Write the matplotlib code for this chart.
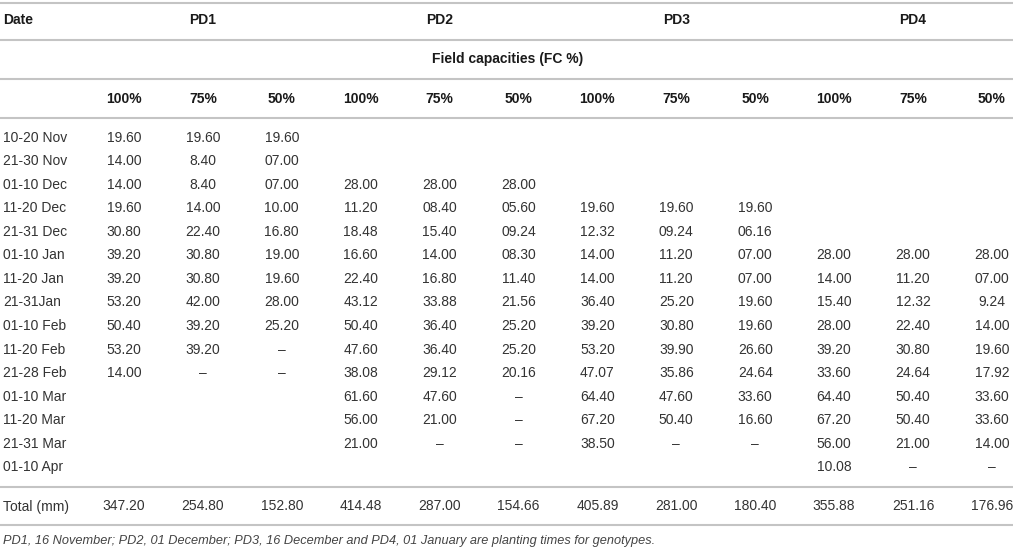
import matplotlib
matplotlib.use("Agg")
import matplotlib.pyplot as plt

plt.rcParams['font.family'] = ['Liberation Sans', 'DejaVu Sans']

dates = ["10-20 Nov", "21-30 Nov", "01-10 Dec", "11-20 Dec", "21-31 Dec",
         "01-10 Jan", "11-20 Jan", "21-31Jan", "01-10 Feb", "11-20 Feb",
         "21-28 Feb", "01-10 Mar", "11-20 Mar", "21-31 Mar", "01-10 Apr"]

planting_dates = ["PD1", "PD2", "PD3", "PD4"]
fc_levels = ["100%", "75%", "50%"]

D = "\u2013"
pd1_100 = ["19.60", "14.00", "14.00", "19.60", "30.80", "39.20", "39.20", "53.20", "50.40", "53.20", "14.00", "", "", "", ""]
pd1_75 = ["19.60", "8.40", "8.40", "14.00", "22.40", "30.80", "30.80", "42.00", "39.20", "39.20", D, "", "", "", ""]
pd1_50 = ["19.60", "07.00", "07.00", "10.00", "16.80", "19.00", "19.60", "28.00", "25.20", D, D, "", "", "", ""]
pd2_100 = ["", "", "28.00", "11.20", "18.48", "16.60", "22.40", "43.12", "50.40", "47.60", "38.08", "61.60", "56.00", "21.00", ""]
pd2_75 = ["", "", "28.00", "08.40", "15.40", "14.00", "16.80", "33.88", "36.40", "36.40", "29.12", "47.60", "21.00", D, ""]
pd2_50 = ["", "", "28.00", "05.60", "09.24", "08.30", "11.40", "21.56", "25.20", "25.20", "20.16", D, D, D, ""]
pd3_100 = ["", "", "", "19.60", "12.32", "14.00", "14.00", "36.40", "39.20", "53.20", "47.07", "64.40", "67.20", "38.50", ""]
pd3_75 = ["", "", "", "19.60", "09.24", "11.20", "11.20", "25.20", "30.80", "39.90", "35.86", "47.60", "50.40", D, ""]
pd3_50 = ["", "", "", "19.60", "06.16", "07.00", "07.00", "19.60", "19.60", "26.60", "24.64", "33.60", "16.60", D, ""]
pd4_100 = ["", "", "", "", "", "28.00", "14.00", "15.40", "28.00", "39.20", "33.60", "64.40", "67.20", "56.00", "10.08"]
pd4_75 = ["", "", "", "", "", "28.00", "11.20", "12.32", "22.40", "30.80", "24.64", "50.40", "50.40", "21.00", D]
pd4_50 = ["", "", "", "", "", "28.00", "07.00", "9.24", "14.00", "19.60", "17.92", "33.60", "33.60", "14.00", D]

totals = ["347.20", "254.80", "152.80", "414.48", "287.00", "154.66",
          "405.89", "281.00", "180.40", "355.88", "251.16", "176.96"]

columns = [pd1_100, pd1_75, pd1_50, pd2_100, pd2_75, pd2_50,
           pd3_100, pd3_75, pd3_50, pd4_100, pd4_75, pd4_50]

footnote = ("PD1, 16 November; PD2, 01 December; PD3, 16 December and PD4, "
            "01 January are planting times for genotypes.")

W, H = 1016, 549
fig = plt.figure(figsize=(W / 100, H / 100), dpi=100)
ax = fig.add_axes([0, 0, 1, 1])
ax.set_xlim(0, W)
ax.set_ylim(H, 0)
ax.axis("off")

txt = "#333333"
hdr = "#1a1a1a"
line_c = "#c4c4c4"
fs = 10

# horizontal rules
for y in [3, 40, 79, 118, 486.5, 524.5]:
    ax.plot([0, 1013], [y, y], color=line_c, lw=1.5, solid_capstyle="butt")

col_x0 = 124
col_dx = 78.9
col_x = [col_x0 + i * col_dx for i in range(12)]

# header
ax.text(3, 20.5, "Date", fontsize=fs, fontweight="bold", color=hdr, ha="left", va="center")
for i, p in enumerate(planting_dates):
    cx = col_x[3 * i + 1]
    ax.text(cx, 20.5, p, fontsize=fs, fontweight="bold", color=hdr, ha="center", va="center")
ax.text(432, 59.5, "Field capacities (FC %)", fontsize=fs, fontweight="bold", color=hdr,
        ha="left", va="center")
for i in range(12):
    ax.text(col_x[i], 99, fc_levels[i % 3], fontsize=fs, fontweight="bold", color=hdr,
            ha="center", va="center")

row_y0 = 137.5
row_dy = 23.57
for r, d in enumerate(dates):
    y = row_y0 + r * row_dy
    ax.text(3, y, d, fontsize=fs, color=txt, ha="left", va="center")
    for c, col in enumerate(columns):
        if col[r]:
            ax.text(col_x[c], y, col[r], fontsize=fs, color=txt, ha="center", va="center")

ax.text(3, 506.5, "Total (mm)", fontsize=fs, color=txt, ha="left", va="center")
for c, t in enumerate(totals):
    ax.text(col_x[c], 506.5, t, fontsize=fs, color=txt, ha="center", va="center")

ax.text(3, 541, footnote, fontsize=9.15, style="italic", color="#444444", ha="left", va="center")

fig.savefig("out.png", dpi=100)
